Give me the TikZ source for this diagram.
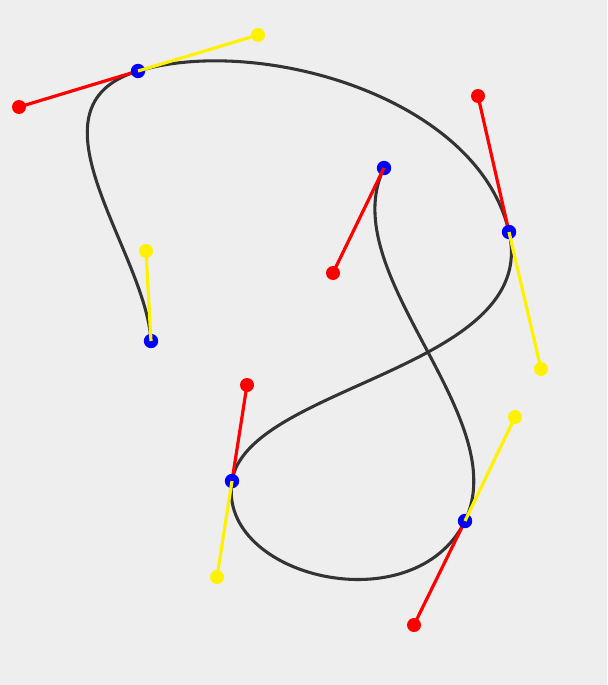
\documentclass[tikz,border=0pt]{standalone}
\usepackage{xcolor}
\usepackage{tikz}

\definecolor{bggray}{HTML}{EEEEEE}
\definecolor{pathgray}{HTML}{333333}

\begin{document}
\begin{tikzpicture}[
  x=0.75pt, y=-0.75pt,
  curve/.style={draw=pathgray, line width=2.3pt},
  inhandle/.style={draw=red, line width=2.4pt},
  outhandle/.style={draw=yellow, line width=2.4pt},
  knot/.style={circle, fill=blue, inner sep=0pt, minimum size=10.8pt},
  intip/.style={circle, fill=red, inner sep=0pt, minimum size=10.5pt},
  outtip/.style={circle, fill=yellow, inner sep=0pt, minimum size=10.5pt}
]
\fill[bggray] (0,0) rectangle (607,685);
\useasboundingbox (0,0) rectangle (607,685);

% anchors
\coordinate (a1) at (151,341);
\coordinate (a2) at (138,71);
\coordinate (a3) at (509,232);
\coordinate (a4) at (232,481);
\coordinate (a5) at (465,521);
\coordinate (a6) at (384,168);
% control points (out = yellow, in = red)
\coordinate (o1) at (146,251);
\coordinate (i2) at (19,107);
\coordinate (o2) at (258,35);
\coordinate (i3) at (478,96);
\coordinate (o3) at (541,369);
\coordinate (i4) at (247,385);
\coordinate (o4) at (217,577);
\coordinate (i5) at (414,625);
\coordinate (o5) at (515,417);
\coordinate (i6) at (333,273);

\draw[curve] (a1) .. controls (o1) and (i2) .. (a2)
  .. controls (o2) and (i3) .. (a3)
  .. controls (o3) and (i4) .. (a4)
  .. controls (o4) and (i5) .. (a5)
  .. controls (o5) and (i6) .. (a6);

\draw[inhandle] (a2) -- (i2);
\draw[inhandle] (a3) -- (i3);
\draw[inhandle] (a4) -- (i4);
\draw[inhandle] (a5) -- (i5);

\node[knot] (k1) at (a1) {};
\node[knot] (k2) at (a2) {};
\node[knot] (k3) at (a3) {};
\node[knot] (k4) at (a4) {};
\node[knot] (k5) at (a5) {};
\node[knot] (k6) at (a6) {};

\draw[inhandle] (k6.center) -- (i6);
\draw[outhandle] (k1.center) -- (o1);
\draw[outhandle] (k2.center) -- (o2);
\draw[outhandle] (k3.center) -- (o3);
\draw[outhandle] (k4.center) -- (o4);
\draw[outhandle] (k5.center) -- (o5);

\node[intip] (t2) at (i2) {};
\node[intip] (t3) at (i3) {};
\node[intip] (t4) at (i4) {};
\node[intip] (t5) at (i5) {};
\node[intip] (t6) at (i6) {};
\node[outtip] (u1) at (o1) {};
\node[outtip] (u2) at (o2) {};
\node[outtip] (u3) at (o3) {};
\node[outtip] (u4) at (o4) {};
\node[outtip] (u5) at (o5) {};
\end{tikzpicture}
\end{document}
